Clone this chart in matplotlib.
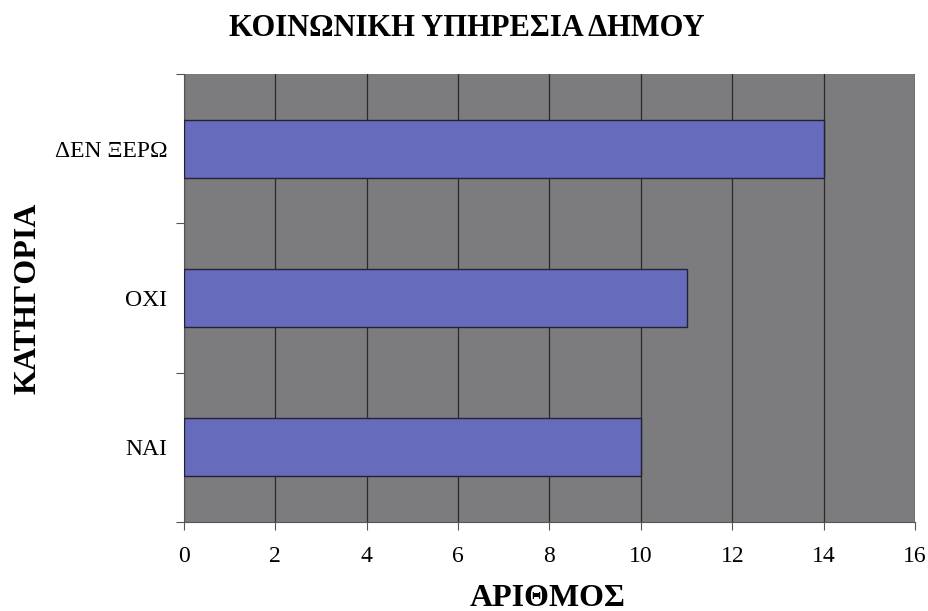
import matplotlib.pyplot as plt

categories = ["ΝΑΙ", "ΟΧΙ", "ΔΕΝ ΞΕΡΩ"]
counts = [10, 11, 14]
x_ticks = [0, 2, 4, 6, 8, 10, 12, 14, 16]

plt.rcParams['font.family'] = ['Liberation Serif', 'DejaVu Serif']

fig = plt.figure(figsize=(9.29, 6.11), dpi=100)
ax = fig.add_axes([184 / 929, 89 / 611, 731 / 929, 448 / 611])
ax.set_facecolor('#7c7c7f')

ax.barh(range(len(categories)), counts, height=0.39, color='#666bbb',
        edgecolor='#222233', linewidth=1.0, zorder=3)

ax.set_xlim(0, 16)
ax.set_ylim(-0.5, 2.5)
ax.set_xticks(x_ticks)
ax.set_xticklabels([str(v) for v in x_ticks], fontsize=17)
ax.grid(axis='x', color='#2a2a2a', linewidth=0.9, zorder=1)

# category labels sit between tick marks drawn at the boundaries
ax.set_yticks([-0.5, 0.5, 1.5, 2.5])
ax.set_yticklabels([])
ax.set_yticks(range(len(categories)), minor=True)
ax.set_yticklabels(categories, minor=True, fontsize=17)
ax.tick_params(axis='y', which='minor', length=0, pad=12)
ax.tick_params(axis='y', which='major', length=6, color='#555555')
ax.tick_params(axis='x', length=6, color='#555555', pad=11)

for side in ['top', 'right']:
    ax.spines[side].set_visible(False)
ax.spines['left'].set_color('#555555')
ax.spines['bottom'].set_color('#555555')

ax.set_xlabel("ΑΡΙΘΜΟΣ", fontsize=23, fontweight='bold', va='center')
ax.xaxis.set_label_coords(0.497, -0.17)
ax.set_ylabel("ΚΑΤΗΓΟΡΙΑ", fontsize=23, fontweight='bold', va='center')
ax.yaxis.set_label_coords(-0.213, 0.5)
fig.text(0.502, 0.953, "ΚΟΙΝΩΝΙΚΗ ΥΠΗΡΕΣΙΑ ΔΗΜΟΥ", ha='center', va='center',
         fontsize=22, fontweight='bold')

fig.savefig('out.png', dpi=100, facecolor='white')
